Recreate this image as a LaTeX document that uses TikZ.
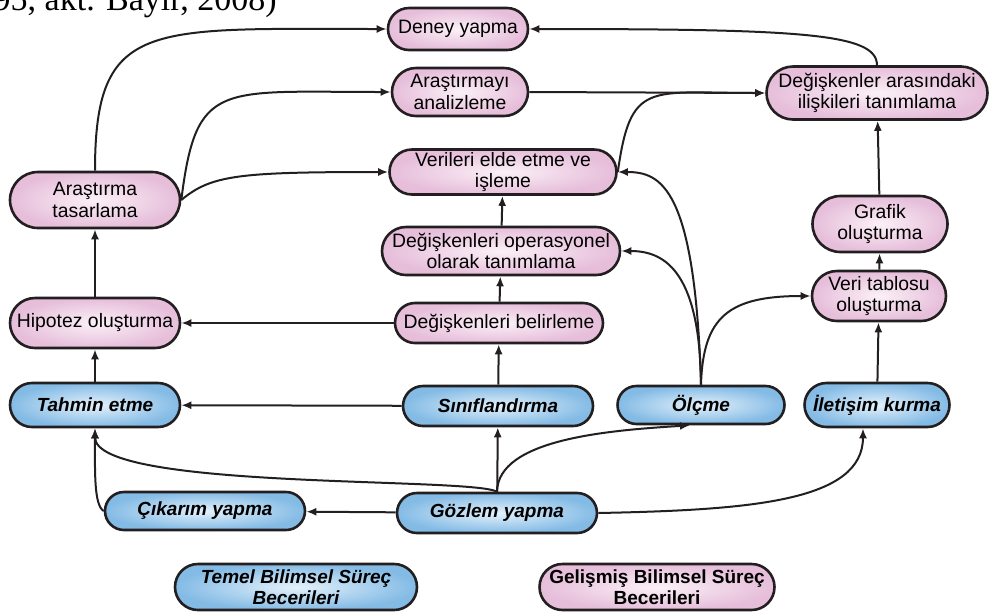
\documentclass[tikz,border=0pt]{standalone}
\usepackage{fontspec}
\setmainfont{Liberation Sans}
\newfontfamily\refserif{Liberation Serif}
\usepackage{xcolor}
\usetikzlibrary{arrows.meta}

\definecolor{inkline}{HTML}{231F20}
\definecolor{pinkedge}{HTML}{E6BEDA}
\definecolor{pinkmid}{HTML}{FBF0F7}
\definecolor{blueedge}{HTML}{84BBE5}
\definecolor{bluemid}{HTML}{E4F1FB}

\begin{document}
\begin{tikzpicture}[x=0.5pt, y=-0.5pt, font=\fontsize{9.7}{10.8}\selectfont,
    box/.style={rectangle, draw=inkline, line width=1.3pt, align=center,
      inner xsep=1pt, inner ysep=0.5pt, minimum height=#1, rounded corners=#1/2},
    pinkbox/.style={box=#1, shading=radial, inner color=pinkmid, outer color=pinkedge},
    bluebox/.style={box=#1, shading=radial, inner color=bluemid, outer color=blueedge,
      font=\fontsize{9.5}{10.8}\selectfont\bfseries\itshape},
    link/.style={draw=inkline, line width=1pt, -{Latex[length=5pt,width=4pt]}}]
  \clip (0,0) rectangle (990,612);

  % kaynak satiri (ustten kesik)
  \node[anchor=base east, inner sep=0pt, font=\refserif\fontsize{17}{17}\selectfont] (kaynak) at (277,10) {95, akt. Bayır, 2008)};

  % gelismis beceriler
  \node[pinkbox=21pt, minimum width=70pt] (deney) at (458,29) {Deney yapma};
  \node[pinkbox=24pt, minimum width=68pt] (analiz) at (460,92) {Araştırmayı\\analizleme};
  \node[pinkbox=22.5pt, minimum width=113.5pt] (veriler) at (503,172) {Verileri elde etme ve\\işleme};
  \node[pinkbox=26.5pt, minimum width=110.5pt] (iliski) at (877,93) {Değişkenler arasındaki\\ilişkileri tanımlama};
  \node[pinkbox=28pt, minimum width=85pt] (tasarim) at (95,200) {Araştırma\\tasarlama};
  \node[pinkbox=24pt, minimum width=119pt] (operasyon) at (501,251) {Değişkenleri operasyonel\\olarak tanımlama};
  \node[pinkbox=28pt, minimum width=67.5pt] (grafik) at (880,224) {Grafik\\oluşturma};
  \node[pinkbox=25pt, minimum width=67pt] (tablo) at (879,296) {Veri tablosu\\oluşturma};
  \node[pinkbox=25pt, minimum width=85pt] (hipotez) at (95,323) {Hipotez oluşturma};
  \node[pinkbox=20pt, minimum width=104pt] (belirle) at (499,323) {Değişkenleri belirleme};

  % temel beceriler
  \node[bluebox=22pt, minimum width=85pt] (tahmin) at (95,405) {Tahmin etme};
  \node[bluebox=20pt, minimum width=95pt] (sinif) at (498,406) {Sınıflandırma};
  \node[bluebox=19pt, minimum width=83.5pt] (olcme) at (701,405) {Ölçme};
  \node[bluebox=22pt, minimum width=72.5pt] (iletisim) at (877,405) {İletişim kurma};
  \node[bluebox=19pt, minimum width=100pt] (cikarim) at (205,511) {Çıkarım yapma};
  \node[bluebox=20pt, minimum width=100pt] (gozlem) at (497,513) {Gözlem yapma};

  % aciklama
  \node[bluebox=23pt, minimum width=121pt] (temel) at (296,587) {Temel Bilimsel Süreç\\Becerileri};
  \node[pinkbox=23pt, minimum width=117.5pt, font=\fontsize{9.5}{10.8}\selectfont\bfseries] (gelismis) at (657,587) {Gelişmiş Bilimsel Süreç\\Becerileri};

  % baglantilar
  \draw[link] (tasarim.north) .. controls +(0,-152) and +(-238,0) .. (deney.west);
  \draw[link] (tasarim.east) .. controls +(15,-120) and +(-172,0) .. (analiz.west);
  \draw[link] (tasarim.east) .. controls +(30,-25) and +(-150,0) .. (veriler.west);
  \draw[link] (analiz.east) -- (iliski.west);
  \draw[link] (veriler.east) .. controls +(13,-92) and +(-117,0) .. (iliski.west);
  \draw[link] (iliski.north) .. controls +(0,-32) and +(272,0) .. (deney.east);
  \draw[link] (olcme.north) .. controls +(-6,-198) and +(43,0) .. (veriler.east);
  \draw[link] (olcme.north) .. controls +(-1,-118) and +(40,0) .. (operasyon.east);
  \draw[link] (olcme.north) .. controls +(2,-68) and +(-82,0) .. (tablo.west);
  \draw[link] (belirle) -- (operasyon);
  \draw[link] (operasyon) -- (veriler);
  \draw[link] (belirle) -- (hipotez);
  \draw[link] (hipotez) -- (tasarim);
  \draw[link] (tahmin) -- (hipotez);
  \draw[link] (sinif) -- (tahmin);
  \draw[link] (sinif) -- (belirle);
  \draw[link] (gozlem) -- (sinif);
  \draw[link] (gozlem) -- (cikarim);
  \draw[link] (iletisim) -- (tablo);
  \draw[link] (tablo) -- (grafik);
  \draw[link] (grafik) -- (iliski);
  \draw[link] (gozlem.north) .. controls +(-27,-15) and +(0,62) .. (tahmin.south);
  \draw[link] (cikarim.west) .. controls +(-10,-6) and +(0,42) .. (tahmin.south);
  \draw[link] (gozlem.north) .. controls +(1,-53) and +(-80,5) .. ([xshift=-5.5pt]olcme.south);
  \draw[link] (gozlem.east) .. controls +(153,-3) and +(0,73) .. ([xshift=-7pt]iletisim.south);
\end{tikzpicture}
\end{document}
